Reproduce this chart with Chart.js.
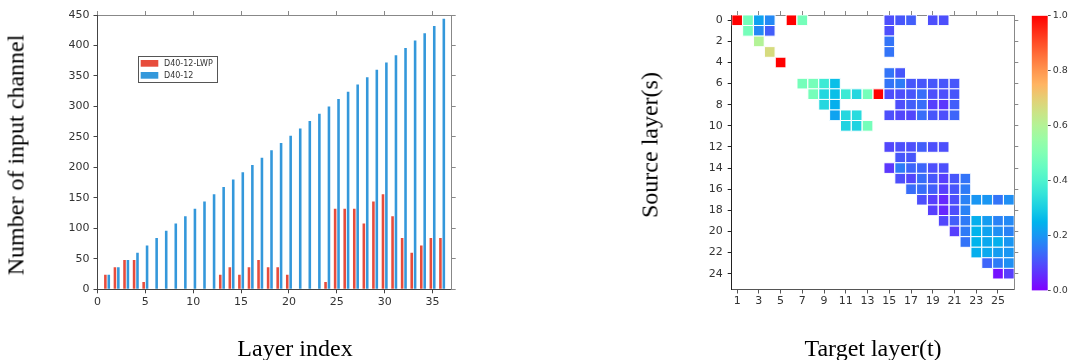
<!DOCTYPE html>
<html>
<head>
<meta charset="utf-8">
<script src="https://cdn.jsdelivr.net/npm/chart.js@4.4.1/dist/chart.umd.min.js"></script>
<style>
  body { margin: 0; width: 1068px; height: 360px; background: #fff; position: relative; overflow: hidden; }
  canvas { position: absolute; top: 0; }
  .ttl { position: absolute; font-family: "Liberation Serif", serif; font-size: 24px; color: #000;
         white-space: nowrap; transform: translate(-50%, -50%); }
  .rot { transform: translate(-50%, -50%) rotate(-90deg); }
</style>
</head>
<body>
<canvas id="barChart" width="530" height="360" style="left:0"></canvas>
<canvas id="heatChart" width="422" height="360" style="left:600px"></canvas>
<canvas id="cbarChart" width="46" height="360" style="left:1022px"></canvas>
<div class="ttl rot" style="left:16px; top:155px">Number of input channel</div>
<div class="ttl" style="left:295px; top:348px">Layer index</div>
<div class="ttl rot" style="left:650px; top:145px">Source layer(s)</div>
<div class="ttl" style="left:873px; top:348px">Target layer(t)</div>
<script>
// --- 左: 各レイヤーの入力チャネル数
var layerIndex = [1, 2, 3, 4, 5, 6, 7, 8, 9, 10, 11, 12, 13, 14, 15, 16, 17, 18,
                  19, 20, 21, 22, 23, 24, 25, 26, 27, 28, 29, 30, 31, 32, 33, 34, 35, 36];
var lwpChannels = [24, 36, 48, 48, 12, 0, 0, 0, 0, 0, 0, 0, 24, 36, 24, 36, 48, 36,
                   36, 24, 0, 0, 0, 12, 132, 132, 132, 108, 144, 156, 120, 84, 60, 72, 84, 84];
var denseChannels = [24, 36, 48, 60, 72, 84, 96, 108, 120, 132, 144, 156, 168, 180, 192, 204, 216, 228,
                     240, 252, 264, 276, 288, 300, 312, 324, 336, 348, 360, 372, 384, 396, 408, 420, 432, 444];
var layerTicks = [0, 5, 10, 15, 20, 25, 30, 35];
var channelTicks = [0, 50, 100, 150, 200, 250, 300, 350, 400, 450];

// --- 右: 接続の重み [source, target, value]
var heatCells = [
  [0, 1, 1.0], [0, 2, 0.48], [0, 3, 0.22], [0, 4, 0.18], [0, 6, 1.0], [0, 7, 0.48],
  [0, 15, 0.1], [0, 16, 0.11], [0, 17, 0.12], [0, 19, 0.1], [0, 20, 0.1],
  [1, 2, 0.48], [1, 3, 0.18], [1, 4, 0.12], [1, 15, 0.1],
  [2, 3, 0.6], [2, 15, 0.15],
  [3, 4, 0.67], [3, 15, 0.15],
  [4, 5, 1.0],
  [5, 15, 0.15], [5, 16, 0.11],
  [6, 7, 0.48], [6, 8, 0.48], [6, 9, 0.37], [6, 10, 0.27],
  [6, 15, 0.15], [6, 16, 0.16], [6, 17, 0.11], [6, 18, 0.11], [6, 19, 0.11], [6, 20, 0.11], [6, 21, 0.11],
  [7, 8, 0.48], [7, 9, 0.32], [7, 10, 0.27], [7, 11, 0.37], [7, 12, 0.32], [7, 13, 0.48], [7, 14, 1.0],
  [7, 15, 0.1], [7, 16, 0.1], [7, 17, 0.11], [7, 18, 0.14], [7, 19, 0.1], [7, 20, 0.1], [7, 21, 0.11],
  [8, 9, 0.32], [8, 10, 0.24],
  [8, 16, 0.1], [8, 17, 0.12], [8, 18, 0.14], [8, 19, 0.08], [8, 20, 0.07], [8, 21, 0.12],
  [9, 10, 0.22], [9, 11, 0.32], [9, 12, 0.33],
  [9, 15, 0.1], [9, 16, 0.09], [9, 17, 0.09], [9, 18, 0.14], [9, 19, 0.11], [9, 20, 0.1], [9, 21, 0.13],
  [10, 11, 0.31], [10, 12, 0.31], [10, 13, 0.48],
  [12, 15, 0.09], [12, 16, 0.1], [12, 17, 0.1], [12, 18, 0.12], [12, 19, 0.1], [12, 20, 0.1],
  [13, 16, 0.11], [13, 17, 0.11],
  [14, 15, 0.07], [14, 16, 0.16], [14, 17, 0.13], [14, 18, 0.13], [14, 19, 0.1], [14, 20, 0.1],
  [15, 16, 0.1], [15, 17, 0.09], [15, 18, 0.14], [15, 19, 0.11], [15, 20, 0.08], [15, 21, 0.11], [15, 22, 0.15],
  [16, 17, 0.14], [16, 18, 0.14], [16, 19, 0.12], [16, 20, 0.08], [16, 21, 0.11], [16, 22, 0.16],
  [17, 18, 0.1], [17, 19, 0.08], [17, 20, 0.05], [17, 21, 0.1], [17, 22, 0.17], [17, 23, 0.2],
  [17, 24, 0.2], [17, 25, 0.15], [17, 26, 0.19],
  [18, 19, 0.08], [18, 20, 0.05], [18, 21, 0.1], [18, 22, 0.17],
  [19, 20, 0.09], [19, 21, 0.12], [19, 22, 0.16], [19, 23, 0.24], [19, 24, 0.21], [19, 25, 0.17], [19, 26, 0.18],
  [20, 21, 0.08], [20, 22, 0.16], [20, 23, 0.25], [20, 24, 0.22], [20, 25, 0.19], [20, 26, 0.17],
  [21, 22, 0.15], [21, 23, 0.25], [21, 24, 0.23], [21, 25, 0.24], [21, 26, 0.2],
  [22, 23, 0.24], [22, 24, 0.23], [22, 25, 0.21], [22, 26, 0.2],
  [23, 24, 0.13], [23, 25, 0.16], [23, 26, 0.19],
  [24, 25, 0.02], [24, 26, 0.08]
];
var targetTicks = [1, 3, 5, 7, 9, 11, 13, 15, 17, 19, 21, 23, 25];
var sourceTicks = [0, 2, 4, 6, 8, 10, 12, 14, 16, 18, 20, 22, 24];
var colorbarTicks = [0, 0.2, 0.4, 0.6, 0.8, 1.0];

// matplotlib "rainbow" colormap
function rainbow(v) {
  var r = Math.min(1, Math.abs(2 * v - 0.5));
  var g = Math.max(0, Math.sin(Math.PI * v));
  var b = Math.max(0, Math.cos(Math.PI * v / 2));
  return 'rgb(' + Math.round(r * 255) + ',' + Math.round(g * 255) + ',' + Math.round(b * 255) + ')';
}

function fixedTicks(list) {
  return function(scale) {
    scale.ticks = list.map(function(v) { return { value: v }; });
  };
}

var tickFont = { family: 'DejaVu Sans', size: 11 };

function edgeAxis(pos, color, min, max, list, size, extra) {
  var ax = {
    type: 'linear', position: pos, min: min, max: max, offset: false,
    grid: { offset: false, drawOnChartArea: false, drawTicks: true, tickLength: 4, color: color },
    border: { display: true, color: color, width: 1 },
    ticks: { display: false },
    afterBuildTicks: fixedTicks(list),
    afterFit: function(s) { if (pos == 'top' || pos == 'bottom') s.height = size; else s.width = size; }
  };
  for (var k in extra) ax[k] = extra[k];
  return ax;
}

// 凡例（枠付き）
var legendBox = {
  id: 'legendBox',
  afterDraw: function(chart) {
    var c = chart.ctx;
    c.save();
    c.fillStyle = '#fff';
    c.fillRect(138.5, 56.5, 79, 26);
    c.strokeStyle = '#555';
    c.lineWidth = 1;
    c.strokeRect(138.5, 56.5, 79, 26);
    c.font = '8px "DejaVu Sans"';
    c.textBaseline = 'middle';
    chart.data.datasets.forEach(function(ds, i) {
      var y = 60 + i * 12;
      c.fillStyle = ds.backgroundColor;
      c.fillRect(140.7, y, 17.6, 6.7);
      c.fillStyle = '#333';
      c.fillText(ds.label, 164, y + 3.5);
    });
    c.restore();
  }
};

new Chart(document.getElementById('barChart'), {
  type: 'bar',
  data: {
    datasets: [
      { label: 'D40-12-LWP', backgroundColor: '#e74c3c',
        data: layerIndex.map(function(x, i) { return { x: x, y: lwpChannels[i] }; }) },
      { label: 'D40-12', backgroundColor: '#3498db',
        data: layerIndex.map(function(x, i) { return { x: x, y: denseChannels[i] }; }) }
    ]
  },
  options: {
    responsive: false, animation: false, events: [],
    categoryPercentage: 0.71, barPercentage: 0.76,
    layout: { padding: { top: 15, right: 78.3, left: 0, bottom: 0 } },
    plugins: { legend: { display: false }, tooltip: { enabled: false } },
    scales: {
      x: edgeAxis('bottom', '#444', 0, 37, layerTicks, 70.7,
                  { ticks: { display: true, font: tickFont, color: '#333', padding: 2, maxRotation: 0 } }),
      x2: edgeAxis('top', '#888', 0, 37, layerTicks, 0),
      y: edgeAxis('left', '#444', 0, 450, channelTicks, 97.5,
                  { ticks: { display: true, font: tickFont, color: '#333', padding: 4 } }),
      y2: edgeAxis('right', '#888', 0, 450, channelTicks, 0)
    }
  },
  plugins: [legendBox]
});

new Chart(document.getElementById('heatChart'), {
  type: 'scatter',
  data: {
    datasets: [{
      data: heatCells.map(function(c) { return { x: c[1], y: c[0], v: c[2] }; }),
      pointStyle: 'rect',
      backgroundColor: function(ctx) { return ctx.raw ? rainbow(ctx.raw.v) : '#fff'; },
      borderColor: '#fff',
      borderWidth: 1,
      radius: function(ctx) {
        var xs = ctx.chart.scales.x;
        var w = Math.abs(xs.getPixelForValue(1) - xs.getPixelForValue(0));
        return (w - 0.2) / Math.SQRT2;
      }
    }]
  },
  options: {
    responsive: false, animation: false, events: [],
    layout: { padding: { top: 15, right: 7.7, left: 0, bottom: 0 } },
    plugins: { legend: { display: false }, tooltip: { enabled: false } },
    scales: {
      x: edgeAxis('bottom', '#555', 0.5, 26.5, targetTicks, 70.5,
                  { ticks: { display: true, font: tickFont, color: '#333', padding: 1, maxRotation: 0 } }),
      x2: edgeAxis('top', '#888', 0.5, 26.5, targetTicks, 0),
      y: edgeAxis('left', '#222', -0.5, 25.5, sourceTicks, 131.7,
                  { reverse: true, ticks: { display: true, font: tickFont, color: '#333', padding: 5 } }),
      y2: edgeAxis('right', '#888', -0.5, 25.5, sourceTicks, 0, { reverse: true })
    }
  }
});

// カラーバー
new Chart(document.getElementById('cbarChart'), {
  type: 'bar',
  data: {
    labels: [''],
    datasets: [{
      data: [[0, 1]],
      borderWidth: 0,
      backgroundColor: function(ctx) {
        var area = ctx.chart.chartArea;
        if (!area) return null;
        var g = ctx.chart.ctx.createLinearGradient(0, area.bottom, 0, area.top);
        for (var i = 0; i <= 20; i++) g.addColorStop(i / 20, rainbow(i / 20));
        return g;
      }
    }]
  },
  options: {
    responsive: false, animation: false, events: [],
    categoryPercentage: 1, barPercentage: 1,
    layout: { padding: { top: 15.7, right: 0, left: 9.7, bottom: 69.3 } },
    plugins: { legend: { display: false }, tooltip: { enabled: false } },
    scales: {
      x: { display: false },
      y: {
        position: 'right', min: 0, max: 1,
        grid: { drawOnChartArea: false, drawTicks: true, tickLength: 3, color: '#555' },
        border: { display: false },
        ticks: { font: { family: 'DejaVu Sans', size: 9.5 }, color: '#333', padding: 2,
                 callback: function(v) { return v.toFixed(1); } },
        afterBuildTicks: fixedTicks(colorbarTicks),
        afterFit: function(s) { s.width = 20.3; }
      }
    }
  }
});
</script>
</body>
</html>
